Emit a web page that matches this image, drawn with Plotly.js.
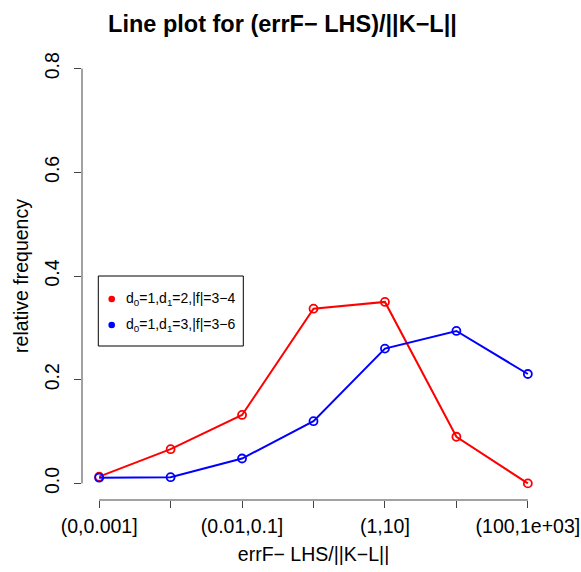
<!DOCTYPE html>
<html>
<head>
<meta charset="utf-8">
<script src="https://cdn.plot.ly/plotly-3.0.1.min.js"></script>
<style>html,body{margin:0;padding:0;background:#fff}#plot{width:581px;height:572px}</style>
</head>
<body>
<div id="plot"></div>
<script>
var categories = ["(0,0.001]", "(0.001,0.01]", "(0.01,0.1]", "(0.1,1]", "(1,10]", "(10,100]", "(100,1e+03]"];
var shownTickLabels = ["(0,0.001]", "(0.01,0.1]", "(1,10]", "(100,1e+03]"];
var seriesNames = ["d<sub>0</sub>=1,d<sub>1</sub>=2,|f|=3\u22124", "d<sub>0</sub>=1,d<sub>1</sub>=3,|f|=3\u22126"];
var seriesColors = ["#ff0000", "#0000ff"];
var series1Values = [0.013, 0.066, 0.132, 0.337, 0.350, 0.090, 0.000];
var series2Values = [0.011, 0.012, 0.048, 0.120, 0.260, 0.294, 0.211];
var yTickVals = [0, 0.2, 0.4, 0.6, 0.8];
var yTickText = ["0.0", "0.2", "0.4", "0.6", "0.8"];

var FONT = "Liberation Sans, Arial, Helvetica, sans-serif";
var axisCol = "#444";
var W = 581, H = 572, M = {l: 82, r: 36, t: 52, b: 72};
var PW = W - M.l - M.r, PH = H - M.t - M.b;
function px(xp) { return (xp - M.l) / PW; }
function py(yp) { return (H - M.b - yp) / PH; }

// numeric positions 1..n for the categories
var xpos = categories.map(function (c, i) { return i + 1; });
var shownTickVals = shownTickLabels.map(function (l) { return categories.indexOf(l) + 1; });

function lineTrace(vals, col, name) {
  return {
    x: xpos, y: vals, type: "scatter", mode: "lines+markers", name: name,
    text: categories, hoverinfo: "text+y",
    line: {color: col, width: 2},
    marker: {symbol: "circle-open", size: 8, color: col, line: {width: 1.8, color: col}},
    showlegend: false
  };
}

var data = [
  lineTrace(series1Values, seriesColors[0], seriesNames[0]),
  lineTrace(series2Values, seriesColors[1], seriesNames[1])
];

// legend drawn as box + dots + text
var legX0 = 98.3, legX1 = 243.3, legY0 = 276, legY1 = 346;
var legRowsY = [299, 325], legDotX = 111.7, legTextX = 124;
var shapes = [
  {type: "line", xref: "x", yref: "paper", x0: xpos[0], x1: xpos[xpos.length - 1], y0: 0, y1: 0,
   line: {color: axisCol, width: 1}},
  {type: "line", xref: "paper", yref: "y", x0: 0, x1: 0, y0: yTickVals[0], y1: yTickVals[yTickVals.length - 1],
   line: {color: axisCol, width: 1}},
  {type: "rect", xref: "paper", yref: "paper", x0: px(legX0), x1: px(legX1), y0: py(legY1), y1: py(legY0),
   line: {color: "#000", width: 1}, fillcolor: "#fff", layer: "above"}
];
var annotations = [];
seriesNames.forEach(function (n, i) {
  shapes.push({type: "circle", xref: "paper", yref: "paper", xsizemode: "pixel", ysizemode: "pixel",
    xanchor: px(legDotX), yanchor: py(legRowsY[i]), x0: -3.3, x1: 3.3, y0: -3.3, y1: 3.3,
    fillcolor: seriesColors[i], line: {width: 0}, layer: "above"});
  annotations.push({text: n, xref: "paper", yref: "paper", x: px(legTextX), y: py(legRowsY[i]),
    xanchor: "left", yanchor: "middle", showarrow: false, font: {size: 14, family: FONT, color: "#000"}});
});

var layout = {
  width: W, height: H,
  margin: M,
  paper_bgcolor: "#fff", plot_bgcolor: "#fff",
  font: {family: FONT, size: 19.5, color: "#000"},
  title: {text: "<b>Line plot for (errF\u2212 LHS)/||K\u2212L||</b>", font: {size: 23.5, family: FONT},
          x: 282.5 / W, xref: "container", xanchor: "center", y: 1 - 24 / H, yref: "container", yanchor: "middle"},
  xaxis: {
    range: [0.76, 7.24], tickmode: "array", tickvals: shownTickVals, ticktext: shownTickLabels,
    ticks: "outside", ticklen: 7, tickcolor: axisCol, tickwidth: 1,
    minor: {ticks: "outside", dtick: 1, tick0: 1, ticklen: 7, tickcolor: axisCol, tickwidth: 1, showgrid: false},
    showline: false, showgrid: false, zeroline: false,
    tickfont: {size: 19.5}, ticklabelstandoff: 2,
    title: {text: "errF\u2212 LHS/||K\u2212L||", font: {size: 19.5}, standoff: 10}
  },
  yaxis: {
    range: [-0.032, 0.832], tickmode: "array", tickvals: yTickVals, ticktext: yTickText,
    tickangle: -90, ticks: "outside", ticklen: 7, tickcolor: axisCol, tickwidth: 1,
    showline: false, showgrid: false, zeroline: false,
    tickfont: {size: 19.5}, ticklabelstandoff: 7,
    title: {text: "relative frequency", font: {size: 19.5}, standoff: 7}
  },
  shapes: shapes,
  annotations: annotations,
  showlegend: false
};

Plotly.newPlot("plot", data, layout, {displayModeBar: false, staticPlot: true});
</script>
</body>
</html>
